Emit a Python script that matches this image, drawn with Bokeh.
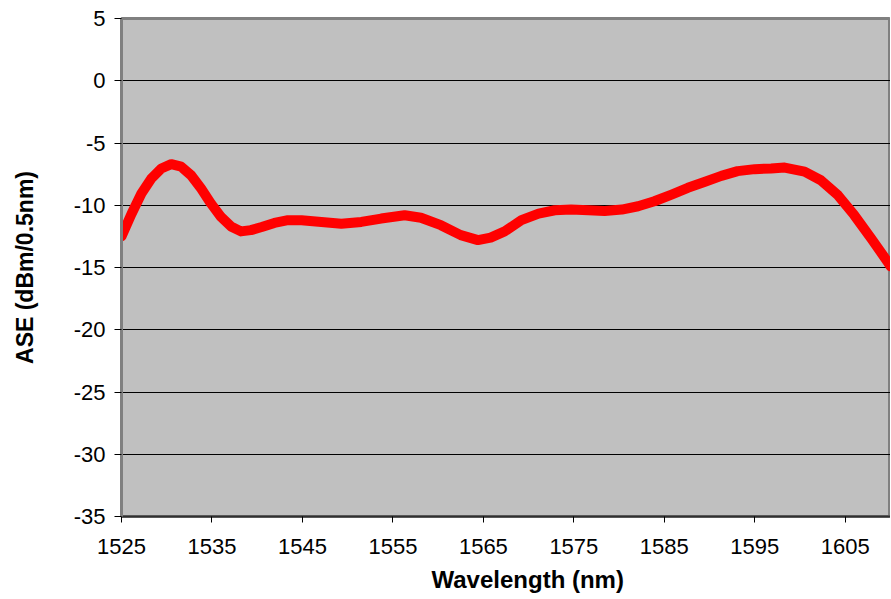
from bokeh.plotting import figure
from bokeh.models import FixedTicker, Range1d, Title, ColumnDataSource, CustomJSTickFormatter
from bokeh.embed import file_html
from bokeh.resources import INLINE

# Data
wavelength = [1525.0, 1526.1, 1527.2, 1528.3, 1529.4, 1530.5, 1531.6, 1532.7, 1533.8,
              1534.9, 1536.0, 1537.1, 1538.2, 1539.3, 1540.5, 1541.9, 1543.4, 1544.9,
              1547.1, 1549.3, 1551.5, 1553.7, 1556.3, 1558.1, 1560.3, 1562.5, 1564.4,
              1565.8, 1567.35, 1569.2, 1571.1, 1572.9, 1574.7, 1576.6, 1578.4, 1580.3,
              1582.1, 1583.9, 1585.8, 1587.6, 1589.5, 1591.3, 1593.1, 1595.0, 1596.8,
              1598.3, 1600.5, 1602.3, 1604.2, 1606.0, 1607.9, 1609.7, 1610.0]
ase = [-12.5, -10.7, -9.06, -7.85, -7.05, -6.7, -6.9, -7.6, -8.66,
       -9.87, -10.94, -11.7, -12.1, -12.0, -11.75, -11.42, -11.2, -11.2,
       -11.34, -11.48, -11.34, -11.07, -10.8, -11.0, -11.6, -12.4, -12.8,
       -12.6, -12.1, -11.2, -10.67, -10.4, -10.35, -10.4, -10.46, -10.35,
       -10.08, -9.68, -9.14, -8.6, -8.12, -7.64, -7.26, -7.1, -7.05,
       -6.97, -7.3, -7.99, -9.2, -10.8, -12.7, -14.56, -14.9]
x_ticks = [1525, 1535, 1545, 1555, 1565, 1575, 1585, 1595, 1605]
y_ticks = [-35, -30, -25, -20, -15, -10, -5, 0, 5]
x_title = "Wavelength (nm)"
y_title = "ASE (dBm/0.5nm)"

FONT = "Liberation Sans"

p = figure(width=890, height=599, output_backend="svg", toolbar_location=None,
           x_range=Range1d(1525, 1610), y_range=Range1d(-35, 5),
           min_border_left=121, min_border_right=0, min_border_top=18, min_border_bottom=83)

p.background_fill_color = "#C0C0C0"
p.border_fill_color = "white"
p.outline_line_color = "#808080"
p.outline_line_width = 3

p.xgrid.grid_line_color = None
p.ygrid.grid_line_color = "black"
p.ygrid.grid_line_width = 1

p.xaxis.ticker = FixedTicker(ticks=x_ticks)
p.yaxis.ticker = FixedTicker(ticks=y_ticks)
fmt = "return tick.toString();"
for ax in (p.xaxis, p.yaxis):
    ax.formatter = CustomJSTickFormatter(code=fmt)
    ax.minor_tick_line_color = None
    ax.major_tick_line_color = "black"
    ax.major_tick_in = 0
    ax.major_label_text_font = FONT
    ax.major_label_text_font_size = "22px"
    ax.major_label_text_color = "black"
p.xaxis.major_tick_out = 6
p.yaxis.major_tick_out = 7
p.xaxis.major_label_standoff = 16
p.yaxis.major_label_standoff = 9
p.xaxis.axis_line_color = "#303030"
p.xaxis.axis_line_width = 2
p.yaxis.axis_line_color = "#808080"
p.yaxis.axis_line_width = 3

p.yaxis.axis_label = y_title
p.yaxis.axis_label_text_font = FONT
p.yaxis.axis_label_text_font_size = "23px"
p.yaxis.axis_label_text_font_style = "bold"
p.yaxis.axis_label_text_color = "black"
p.yaxis.axis_label_standoff = 33

src = ColumnDataSource(dict(x=wavelength, y=ase))
p.line("x", "y", source=src, line_color="#FF0000", line_width=10,
       line_join="round", line_cap="round")

p.add_layout(Title(text=x_title, text_font=FONT, text_font_size="24px",
                   text_font_style="bold", text_color="black", align="left", offset=310,
                   vertical_align="bottom", standoff=14), "below")

open("out.html", "w").write(file_html(p, INLINE))
